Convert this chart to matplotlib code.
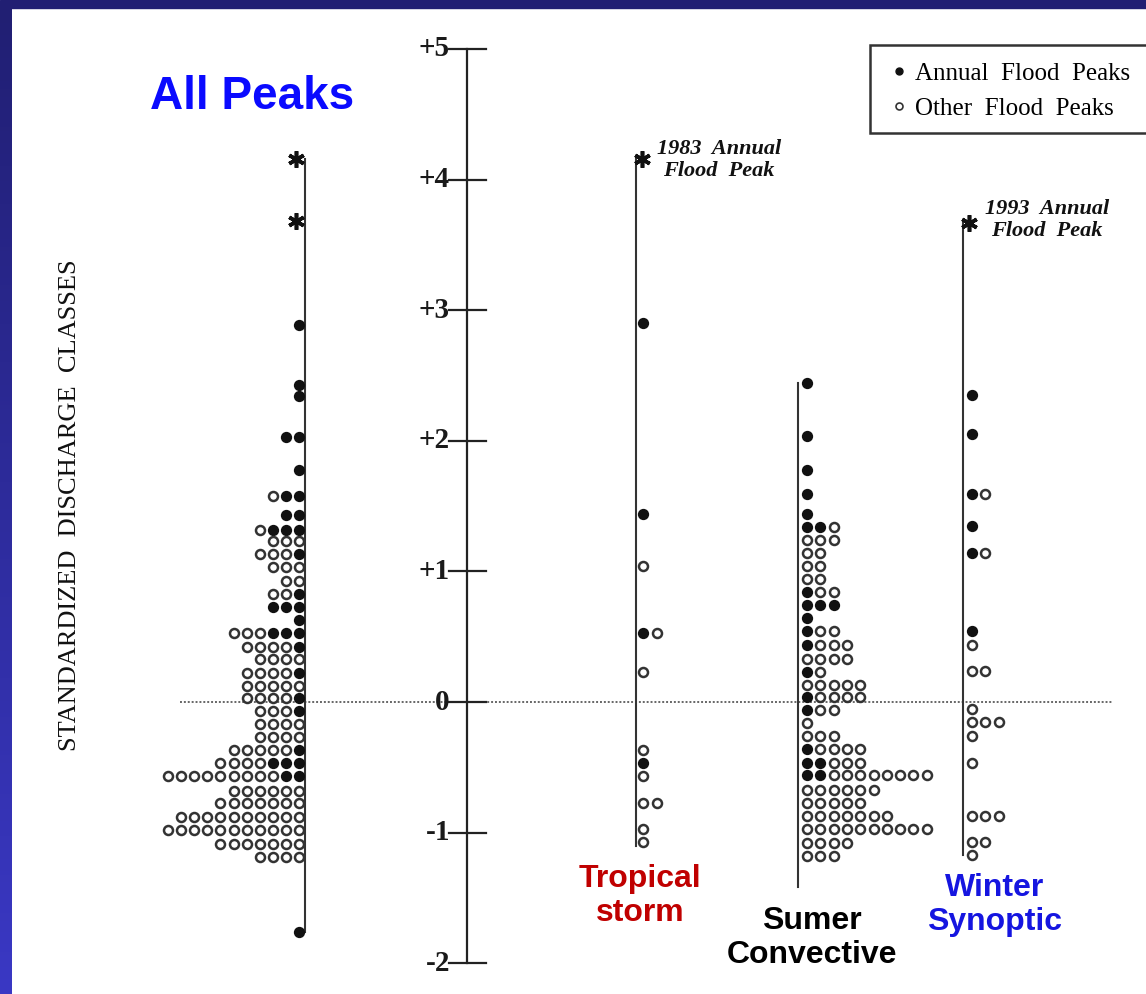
import numpy as np
import matplotlib
matplotlib.use('Agg')
import matplotlib.pyplot as plt
from matplotlib.patches import Rectangle
from matplotlib.lines import Line2D

# standardized discharge class of each row, number of annual (filled) and other (open) peaks
all_vals = [2.89, 2.43, 2.34, 2.03, 1.78, 1.58, 1.43, 1.32, 1.23, 1.13, 1.03, 0.93, 0.83, 0.73, 0.63, 0.53, 0.42,
            0.33, 0.22, 0.12, 0.03, -0.07, -0.17, -0.27, -0.37, -0.47, -0.57, -0.68, -0.77, -0.88, -0.98, -1.09,
            -1.19, -1.76]
all_filled = [1, 1, 1, 2, 1, 2, 2, 3, 0, 1, 0, 0, 1, 3, 1, 3, 1, 0, 1, 0, 1, 1, 0, 0, 1, 3, 2, 0, 0, 0, 0, 0, 0, 1]
all_open = [0, 0, 0, 0, 0, 1, 0, 1, 3, 3, 3, 2, 2, 0, 0, 3, 4, 4, 4, 5, 4, 3, 4, 4, 5, 4, 9, 6, 7, 10, 11, 7, 4, 0]
all_stars = [4.16, 3.68]

trop_vals = [2.90, 1.44, 1.04, 0.53, 0.23, -0.37, -0.47, -0.57, -0.77, -0.97, -1.07]
trop_filled = [1, 1, 0, 1, 0, 0, 1, 0, 0, 0, 0]
trop_open = [0, 0, 1, 1, 1, 1, 0, 1, 2, 1, 1]
trop_stars = [4.16]

summ_vals = [2.44, 2.04, 1.78, 1.59, 1.44, 1.34, 1.24, 1.14, 1.04, 0.94, 0.84, 0.74, 0.64, 0.54, 0.44, 0.33,
             0.23, 0.13, 0.04, -0.06, -0.16, -0.26, -0.36, -0.47, -0.56, -0.67, -0.77, -0.87, -0.97, -1.08, -1.18]
summ_filled = [1, 1, 1, 1, 1, 2, 0, 0, 0, 0, 1, 3, 1, 1, 1, 0, 1, 0, 1, 1, 0, 0, 1, 2, 2, 0, 0, 0, 0, 0, 0]
summ_open = [0, 0, 0, 0, 0, 1, 3, 2, 2, 2, 2, 0, 0, 2, 3, 4, 1, 5, 4, 2, 1, 3, 4, 3, 8, 6, 5, 7, 10, 4, 3]
summ_stars = []

wint_vals = [2.35, 2.05, 1.59, 1.35, 1.14, 0.54, 0.44, 0.24, -0.05, -0.15, -0.26, -0.47, -0.87, -1.07, -1.17]
wint_filled = [1, 1, 1, 1, 1, 1, 0, 0, 0, 0, 0, 0, 0, 0, 0]
wint_open = [0, 0, 1, 0, 1, 0, 1, 2, 1, 3, 1, 1, 3, 2, 1]
wint_stars = [3.67]

# extent of each column's stem line
stem_top = [4.16, 4.16, 2.44, 3.67]
stem_bottom = [-1.76, -1.10, -1.42, -1.17]

axis_ticks = [5, 4, 3, 2, 1, 0, -1, -2]
axis_labels = ['+5', '+4', '+3', '+2', '+1', '0', '-1', '-2']

W, H = 1146, 994
PX = 130.6      # pixels per class unit
Y0 = 702        # pixel row of zero


def draw_column(ax, vals, filled, opn, stars, xline, xdot, step, star_dx, top, bottom):
    ax.plot([xline, xline], [top, bottom], color='#333333', lw=1.5, zorder=2)
    fx, fy, ox, oy = [], [], [], []
    for v, nf, no in zip(vals, filled, opn):
        for i in range(nf + no):
            if i < nf:
                fx.append(xdot + step * i)
                fy.append(v)
            else:
                ox.append(xdot + step * i)
                oy.append(v)
    ax.scatter(fx, fy, s=66, color='#111111', zorder=3, linewidths=0)
    ax.scatter(ox, oy, s=42, facecolor='white', edgecolor='#333333', linewidths=1.8, zorder=3)
    for s in stars:
        ax.plot(xline + star_dx, s, marker=(6, 2, 0), ms=12, mew=2.6, color='#111111', zorder=3)


def main():
    fig = plt.figure(figsize=(W / 100, H / 100), dpi=100)
    fig.patch.set_facecolor('white')
    ax = fig.add_axes([0, 0, 1, 1])
    ax.set_xlim(0, W)
    ax.set_ylim((Y0 - H) / PX, Y0 / PX)
    ax.axis('off')

    serif = ['Liberation Serif', 'DejaVu Serif']
    sans = ['Liberation Sans', 'DejaVu Sans']

    # zero reference line
    ax.plot([180, 1112], [0, 0], color='#666666', lw=1.4, ls=(0, (1, 1)), zorder=1)

    # central scale
    ax.plot([467, 467], [-2, 5], color='#222222', lw=1.6)
    for t, lab in zip(axis_ticks, axis_labels):
        ax.plot([449, 486], [t, t], color='#222222', lw=1.6)
        ax.text(450, t, lab, ha='right', va='center', fontsize=21, weight='bold', family=serif,
                color='#1a1a1a')

    ax.text(70, (Y0 - 505) / PX, 'STANDARDIZED  DISCHARGE  CLASSES', rotation=90, ha='center', va='center',
            fontsize=19, family=serif, color='#111111')

    draw_column(ax, all_vals, all_filled, all_open, all_stars, 305, 299, -13.1, -9, stem_top[0], stem_bottom[0])
    draw_column(ax, trop_vals, trop_filled, trop_open, trop_stars, 636, 643, 14, 6, stem_top[1], stem_bottom[1])
    draw_column(ax, summ_vals, summ_filled, summ_open, summ_stars, 798, 807, 13.3, 0, stem_top[2], stem_bottom[2])
    draw_column(ax, wint_vals, wint_filled, wint_open, wint_stars, 963, 972, 13.3, 6, stem_top[3], stem_bottom[3])

    ax.text(719, (Y0 - 160) / PX, '1983  Annual\nFlood  Peak', ha='center', va='center', fontsize=16,
            style='italic', weight='bold', family=serif, linespacing=1.2, color='#111111')
    ax.text(1047, (Y0 - 220) / PX, '1993  Annual\nFlood  Peak', ha='center', va='center', fontsize=16,
            style='italic', weight='bold', family=serif, linespacing=1.2, color='#111111')

    # legend box
    ax.add_patch(Rectangle((870, (Y0 - 133) / PX), 300, 88 / PX, facecolor='white', edgecolor='#333333',
                           lw=1.8, zorder=4))
    handles = [Line2D([], [], ls='', marker='o', ms=5, color='#111111'),
               Line2D([], [], ls='', marker='o', ms=5, mfc='white', mec='#333333', mew=1.2)]
    leg = ax.legend(handles, ['Annual  Flood  Peaks', 'Other  Flood  Peaks'], loc='upper left',
                    bbox_to_anchor=(864 / W, 1 - 40 / H), frameon=False, handletextpad=0.15,
                    handlelength=1.0, labelspacing=0.5, prop={'family': serif, 'size': 18})
    leg.set_zorder(5)

    # category captions
    ax.text(252, (Y0 - 97) / PX, 'All Peaks', ha='center', va='center', fontsize=33, weight='bold',
            family=sans, color='#0a0aff')
    ax.text(640, (Y0 - 896) / PX, 'Tropical\nstorm', ha='center', va='center', fontsize=23, weight='bold',
            family=sans, color='#c00000', linespacing=1.2)
    ax.text(812, (Y0 - 938) / PX, 'Sumer\nConvective', ha='center', va='center', fontsize=23, weight='bold',
            family=sans, color='black', linespacing=1.2)
    ax.text(995, (Y0 - 905) / PX, 'Winter\nSynoptic', ha='center', va='center', fontsize=23, weight='bold',
            family=sans, color='#1515e0', linespacing=1.2)

    # slide frame: navy strip on top, gradient strip on the left
    fig.add_artist(Rectangle((0, 1 - 8 / H), 1, 8 / H, transform=fig.transFigure, color='#211f73', zorder=10))
    strip = fig.add_axes([0, 0, 12 / W, 1 - 8 / H])
    grad = np.linspace(0, 1, 256).reshape(-1, 1)
    cmap = matplotlib.colors.LinearSegmentedColormap.from_list('navy', ['#211f73', '#3a38c4'])
    strip.imshow(grad, aspect='auto', cmap=cmap)
    strip.axis('off')

    fig.savefig('out.png', dpi=100)


if __name__ == '__main__':
    main()
